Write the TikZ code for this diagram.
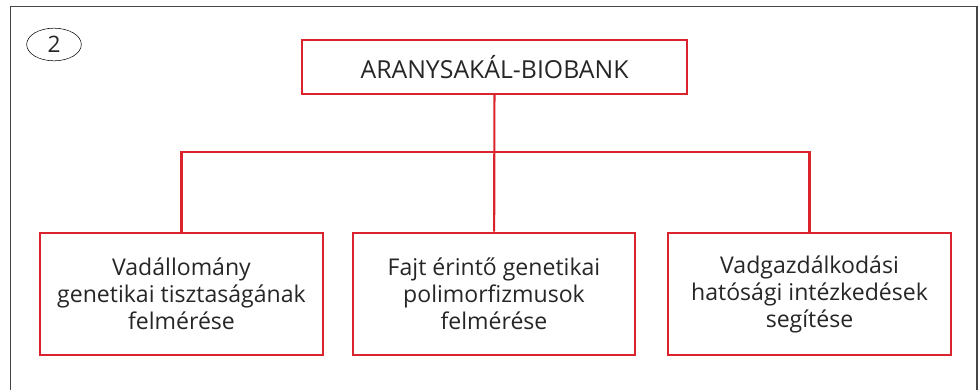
\documentclass[tikz,border=0pt]{standalone}
\usepackage{fontspec}
\setmainfont{Open Sans}
\usetikzlibrary{shapes.geometric}
\definecolor{bankred}{RGB}{218,35,45}
\definecolor{framegray}{RGB}{70,70,70}
\begin{document}
\begin{tikzpicture}[
        x=0.75pt, y=-0.75pt,
        every node/.style={font=\fontsize{17.3}{20.3}\selectfont, text=black!85},
        rootbox/.style={draw=bankred, line width=1.6pt, rectangle, minimum width=289pt, minimum height=40.5pt, font=\fontsize{18.6}{22}\selectfont},
        taskbox/.style={draw=bankred, line width=1.6pt, rectangle, minimum width=212pt, minimum height=92pt, align=center},
        badge/.style={draw, thin, ellipse, minimum width=41pt, minimum height=24.5pt, inner sep=0pt, font=\fontsize{17}{20}\selectfont},
        branch/.style={draw=bankred, line width=1.6pt}
    ]
        \useasboundingbox (0,0) rectangle (980,389);

        % Keret
        \draw[framegray, line width=0.9pt] (10.5,400) -- (10.5,6.5) -- (977,6.5) -- (977,400);
        \node[badge] (num) at (54,44.5) {2};

        % Dobozok
        \node[rootbox] (bank) at (494.5,67) {ARANYSAKÁL-BIOBANK};
        \node[taskbox] (vad) at (181.5,294) {Vadállomány\\genetikai tisztaságának\\felmérése};
        \node[taskbox] (fajt) at (494,294) {Fajt érintő genetikai\\polimorfizmusok\\felmérése};
        \node[taskbox] (hat) at (809.5,294) {Vadgazdálkodási\\hatósági intézkedések\\segítése};

        % Vonalak
        \coordinate (elag) at (494,152);
        \draw[branch] (bank) -- (fajt);
        \draw[branch] (vad.north) |- (elag) -| (hat.north);

    \end{tikzpicture}
\end{document}
